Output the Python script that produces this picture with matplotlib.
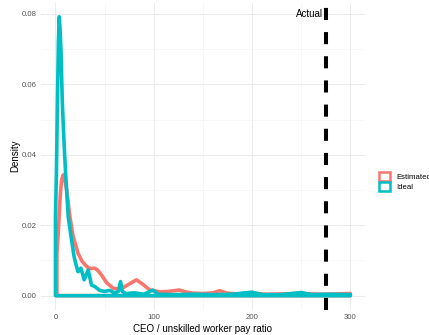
import matplotlib
matplotlib.use("Agg")
import matplotlib.pyplot as plt
from matplotlib.patches import Patch
from matplotlib.ticker import MultipleLocator

plt.rcParams["font.family"] = ["Liberation Sans", "DejaVu Sans"]

# density curves
ideal_x = [0, 1, 2, 3, 3.8, 4.6, 5.6, 6.9, 8.6, 10.3, 13, 16.4, 19, 21.5, 23,
           25.9, 29.2, 33.3, 36.7, 40, 45, 50, 55, 60, 64, 66.2, 68, 72, 80,
           90, 99, 101, 104, 120, 140, 160, 180, 200, 210, 230, 250, 260, 280, 300]
ideal_y = [0.0225, 0.035, 0.055, 0.072, 0.0792, 0.076, 0.0698, 0.0556, 0.0442,
           0.0348, 0.0224, 0.0158, 0.011, 0.0082, 0.0068, 0.0078, 0.0045, 0.0073,
           0.003, 0.0026, 0.0015, 0.0012, 0.0015, 0.0008, 0.0012, 0.004, 0.0012,
           0.0006, 0.0008, 0.0004, 0.0016, 0.0012, 0.0004, 0.0003, 0.0004, 0.0003,
           0.0004, 0.001, 0.0003, 0.0003, 0.0009, 0.0003, 0.0004, 0.0003]

est_x = [1.5, 2.8, 4, 5, 6.3, 7.9, 9.5, 11.4, 14.7, 18, 23, 27, 30, 33, 36, 40,
         43, 47, 52, 58.7, 64, 69, 75, 82.4, 89, 96, 106, 115, 126, 132, 140,
         150, 160, 167, 175, 185, 200, 215, 230, 250, 270, 285, 300]
est_y = [0.012, 0.0175, 0.024, 0.029, 0.0329, 0.0343, 0.033, 0.030, 0.0224,
         0.0168, 0.012, 0.0098, 0.0088, 0.0080, 0.0077, 0.0078, 0.0072, 0.0058,
         0.0037, 0.0021, 0.0019, 0.0023, 0.0033, 0.0045, 0.0032, 0.0016, 0.0011,
         0.0012, 0.0016, 0.0011, 0.0007, 0.0006, 0.0008, 0.0014, 0.0007, 0.0005,
         0.0006, 0.0004, 0.0005, 0.0006, 0.0004, 0.0005, 0.0006]

actual_ratio = 275
series = [("Estimated", est_x, est_y, "#F8766D"),
          ("Ideal", ideal_x, ideal_y, "#00BFC4")]

fig = plt.figure(figsize=(4.29, 3.35), dpi=100)
ax = fig.add_axes([0.0949, 0.0758, 0.851 - 0.0949, 0.992 - 0.0758])

for name, xs, ys, col in series:
    # closed outline like ggplot's geom_density
    px = [xs[0]] + xs + [xs[-1]]
    py = [0] + ys + [0]
    ax.fill(px, py, facecolor="none", edgecolor=col, lw=2.6, joinstyle="round")

ax.axvline(actual_ratio, color="black", lw=2.9, dashes=(3, 3), zorder=3)
ax.text(actual_ratio - 3, 0.08, "Actual", ha="right", va="center", fontsize=7)

ax.set_xlim(-15, 315)
ax.set_ylim(-0.00396, 0.0832)
ax.xaxis.set_major_locator(MultipleLocator(100))
ax.xaxis.set_minor_locator(MultipleLocator(50))
ax.yaxis.set_major_locator(MultipleLocator(0.02))
ax.yaxis.set_minor_locator(MultipleLocator(0.01))
ax.yaxis.set_major_formatter(lambda v, p: f"{v:.2f}")
ax.grid(which="major", color="#EBEBEB", lw=0.7)
ax.grid(which="minor", color="#F2F2F2", lw=0.4)
ax.set_axisbelow(True)
for s in ax.spines.values():
    s.set_visible(False)
ax.tick_params(which="both", length=0, labelsize=5.6, labelcolor="#555555")
ax.tick_params(axis="x", pad=3)
ax.tick_params(axis="y", pad=3.2)

ax.set_xlabel("CEO / unskilled worker pay ratio", fontsize=7, labelpad=2.5)
ax.set_ylabel("Density", fontsize=7, labelpad=0.5)

# keep the legend where the reference has it (label runs off the right edge there too)
handles = [Patch(facecolor="white", edgecolor=c, lw=1.8, label=n) for n, _, _, c in series]
fig.legend(handles=handles, loc="center left", bbox_to_anchor=(379 / 429, 1 - 181.5 / 335),
           frameon=False, fontsize=5.6, handlelength=1.4, handleheight=1.4,
           labelspacing=0.1, handletextpad=0.8, borderpad=0, borderaxespad=0)

fig.savefig("out.png", dpi=100)
